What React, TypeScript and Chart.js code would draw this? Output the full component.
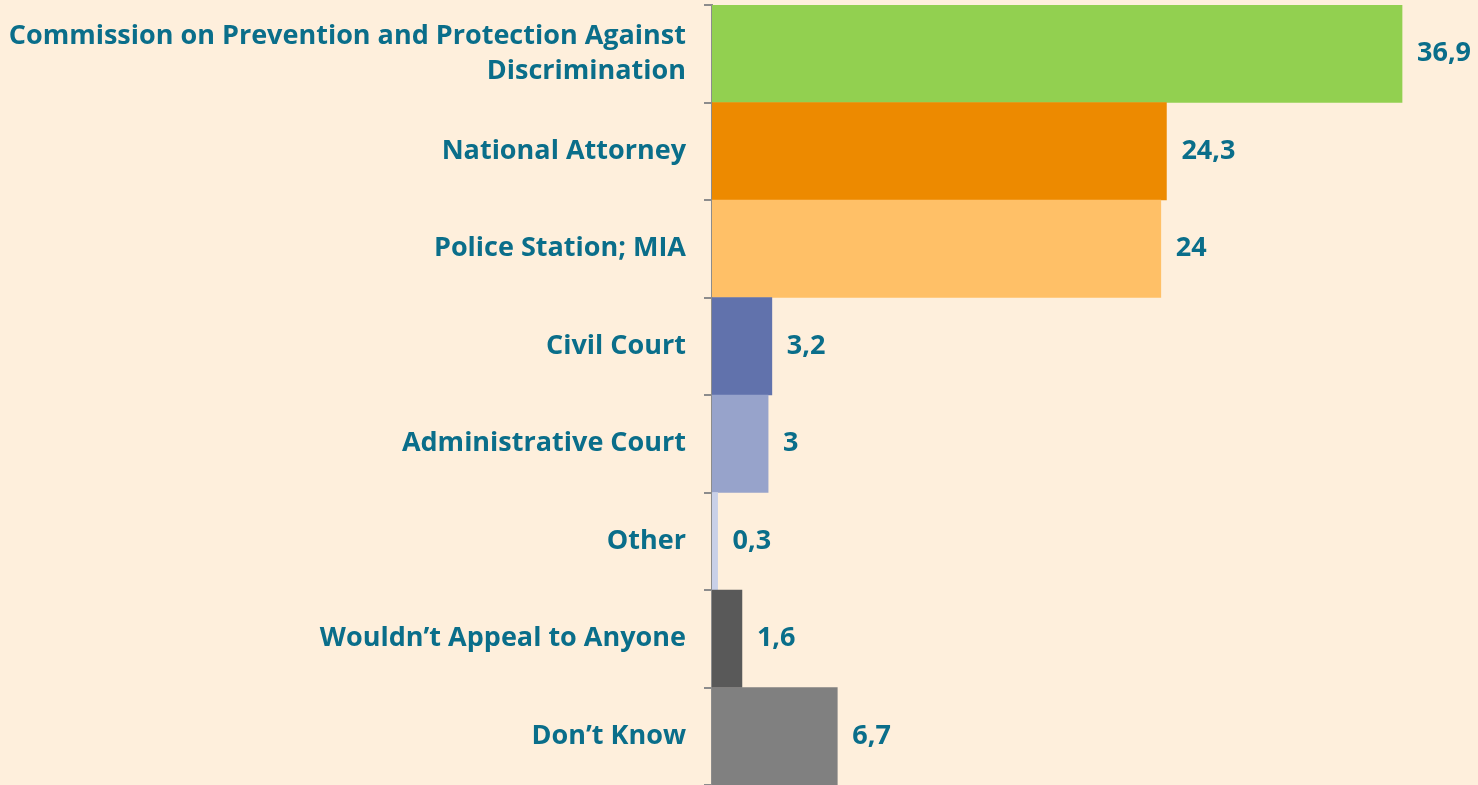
import React, { useEffect, useRef } from "react";
import { Chart, registerables } from "chart.js";

Chart.register(...registerables);

const categories: (string | string[])[] = [
  ["Commission on Prevention and Protection Against", "Discrimination"],
  "National Attorney",
  "Police Station; MIA",
  "Civil Court",
  "Administrative Court",
  "Other",
  "Wouldn\u2019t Appeal to Anyone",
  "Don\u2019t Know",
];
const values = [36.9, 24.3, 24, 3.2, 3, 0.3, 1.6, 6.7];
const valueLabels = ["36,9", "24,3", "24", "3,2", "3", "0,3", "1,6", "6,7"];
const barColors = [
  "#92D050",
  "#ED8A00",
  "#FFC067",
  "#6172AC",
  "#97A3CB",
  "#C9D0E8",
  "#595959",
  "#808080",
];

const TEXT_COLOR = "#0A6E8A";
const BG = "#FEEFDC";
const FONT_FAMILY = "'Open Sans', Lato, sans-serif";
const FONT_SIZE = 27;

const valueLabelPlugin = {
  id: "valueLabels",
  afterDatasetsDraw(chart: any) {
    const { ctx } = chart;
    const meta = chart.getDatasetMeta(0);
    ctx.save();
    ctx.fillStyle = TEXT_COLOR;
    ctx.font = `bold ${FONT_SIZE}px ${FONT_FAMILY}`;
    ctx.textAlign = "left";
    ctx.textBaseline = "middle";
    meta.data.forEach((bar: any, i: number) => {
      ctx.fillText(valueLabels[i], bar.x + 15, bar.y);
    });
    ctx.restore();
  },
};

const bgPlugin = {
  id: "bg",
  beforeDraw(chart: any) {
    const { ctx, width, height } = chart;
    ctx.save();
    ctx.fillStyle = BG;
    ctx.fillRect(0, 0, width, height);
    ctx.restore();
  },
};

export default function App() {
  const ref = useRef<HTMLCanvasElement>(null);

  useEffect(() => {
    if (!ref.current) return;
    const chart = new Chart(ref.current, {
      type: "bar",
      data: {
        labels: categories,
        datasets: [
          {
            data: values,
            backgroundColor: barColors,
            borderWidth: 0,
            barPercentage: 1,
            categoryPercentage: 1,
          },
        ],
      },
      options: {
        indexAxis: "y",
        animation: false,
        responsive: false,
        maintainAspectRatio: false,
        layout: { padding: { top: 5, bottom: 0, right: 18, left: 0 } },
        plugins: {
          legend: { display: false },
          tooltip: { enabled: false },
        },
        scales: {
          x: {
            display: false,
            min: 0,
            max: 40,
          },
          y: {
            afterFit: (s: any) => {
              s.width = 712;
              s.paddingTop = 0;
              s.paddingBottom = 0;
            },
            grid: {
              offset: true,
              drawOnChartArea: false,
              drawTicks: true,
              tickLength: 8,
              color: "#8C8C8C",
              lineWidth: 2,
            },
            border: { display: true, color: "#8C8C8C", width: 2 },
            ticks: {
              color: TEXT_COLOR,
              padding: 18,
              autoSkip: false,
              font: { family: FONT_FAMILY, size: FONT_SIZE, weight: "bold", lineHeight: 1.3 },
            },
          },
        },
      },
      plugins: [bgPlugin, valueLabelPlugin],
    });
    return () => chart.destroy();
  }, []);

  return (
    <div style={{ position: "absolute", left: 0, top: 0, width: 1478, height: 785, background: BG }}>
      <canvas ref={ref} width={1478} height={785} style={{ display: "block" }} />
    </div>
  );
}
